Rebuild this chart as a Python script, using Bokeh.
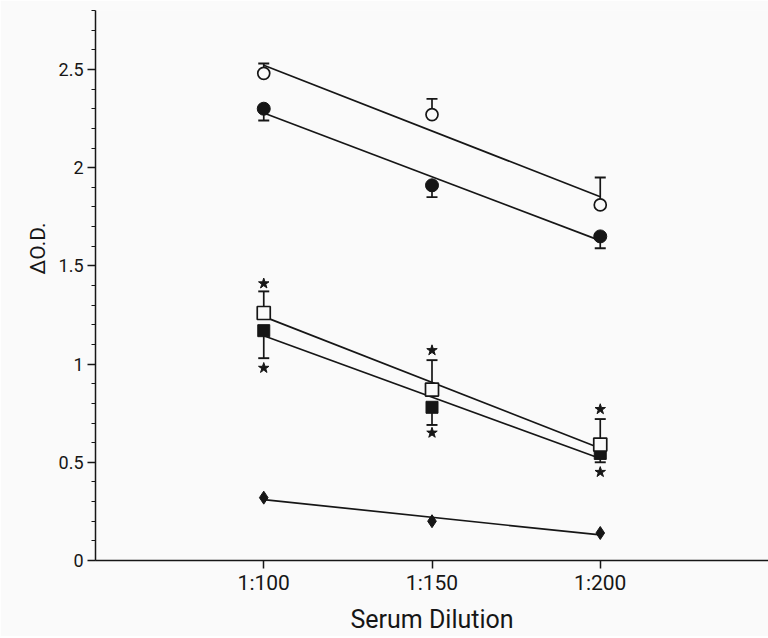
import numpy as np
from bokeh.plotting import figure
from bokeh.models import FixedTicker, Range1d, Title
from bokeh.embed import file_html
from bokeh.resources import INLINE

# ---- data ----
dilutions = ["1:100", "1:150", "1:200"]
x_pos = [1, 2, 3]

open_circle = [2.48, 2.27, 1.81]
open_circle_top = [2.53, 2.35, 1.95]

filled_circle = [2.30, 1.91, 1.65]
filled_circle_bottom = [2.24, 1.85, 1.59]

open_square = [1.26, 0.87, 0.59]
open_square_top = [1.37, 1.02, 0.72]
star_above = [1.41, 1.07, 0.77]

filled_square = [1.17, 0.78, 0.545]
filled_square_bottom = [1.03, 0.69, 0.50]
star_below = [0.98, 0.65, 0.45]

diamond = [0.32, 0.20, 0.14]

y_major = [0, 0.5, 1, 1.5, 2, 2.5]
y_minor = [round(i * 0.1, 1) for i in range(29)]

INK = "#161616"
BG = "#fafafa"
FONT = "Roboto"

p = figure(width=768, height=636, output_backend="svg", toolbar_location=None,
           x_range=Range1d(0, 4.0), y_range=Range1d(0, 2.8),
           min_border_left=95, min_border_top=10, min_border_bottom=76, min_border_right=0,
           background_fill_color=BG, border_fill_color=BG, outline_line_color=None)
p.grid.visible = False

# axes
p.xaxis.ticker = FixedTicker(ticks=x_pos, minor_ticks=[])
p.xaxis.major_label_overrides = {x: d for x, d in zip(x_pos, dilutions)}
p.yaxis.ticker = FixedTicker(ticks=y_major, minor_ticks=y_minor)
p.yaxis.major_label_overrides = {0: "0", 0.5: "0.5", 1: "1", 1.5: "1.5", 2: "2", 2.5: "2.5"}
for ax in (p.xaxis, p.yaxis):
    ax.axis_line_color = INK
    ax.axis_line_width = 1.5
    ax.major_tick_line_color = INK
    ax.major_tick_line_width = 1.5
    ax.minor_tick_line_color = INK
    ax.minor_tick_line_width = 1.2
    ax.major_tick_in = 0
    ax.major_tick_out = 8
    ax.minor_tick_in = 0
    ax.minor_tick_out = 4
    ax.major_label_text_font = FONT
    ax.major_label_text_color = INK
    ax.axis_label_text_font = FONT
    ax.axis_label_text_font_style = "normal"
    ax.axis_label_text_color = INK
p.xaxis.major_label_text_font_size = "21px"
p.xaxis.major_label_standoff = 2
p.yaxis.major_label_text_font_size = "18px"
p.yaxis.major_label_standoff = 4

p.xaxis.axis_label = "Serum Dilution"
p.xaxis.axis_label_text_font_size = "25px"
p.xaxis.axis_label_standoff = 7

# y-axis title placed as a left-side title (positioned toward the top like the original)
p.add_layout(Title(text="\u0394O.D.", align="right", offset=212, standoff=12,
                   text_font=FONT, text_font_size="21px", text_font_style="normal",
                   text_color=INK), "left")

def fit_line(ys):
    k, b = np.polyfit(x_pos, ys, 1)
    xs = [x_pos[0], x_pos[-1]]
    return xs, [k * x + b for x in xs]

# regression lines
for ys in (open_circle, filled_circle, open_square, filled_square, diamond):
    xs, ly = fit_line(ys)
    p.line(xs, ly, line_color=INK, line_width=1.7)

# error bars
def err(y0, y1):
    p.segment(x0=x_pos, y0=y0, x1=x_pos, y1=y1, line_color=INK, line_width=1.7)
    p.scatter(x=x_pos, y=y1, marker="dash", size=11, line_color=INK, line_width=1.9)

err(open_circle, open_circle_top)
err(filled_circle, filled_circle_bottom)
err(open_square, open_square_top)
err(filled_square, filled_square_bottom)

# markers
p.scatter(x=x_pos, y=filled_circle, marker="circle", size=13, fill_color=INK, line_color=INK)
p.scatter(x=x_pos, y=open_circle, marker="circle", size=12, fill_color=BG, line_color=INK, line_width=1.7)
p.scatter(x=x_pos, y=filled_square, marker="square", size=12, fill_color=INK, line_color=INK)
p.scatter(x=x_pos, y=open_square, marker="square", size=13, fill_color=BG, line_color=INK, line_width=1.7)
p.scatter(x=x_pos, y=diamond, marker="diamond", size=13, fill_color=INK, line_color=INK)
p.scatter(x=x_pos, y=star_above, marker="star", size=11, fill_color=INK, line_color=INK)
p.scatter(x=x_pos, y=star_below, marker="star", size=11, fill_color=INK, line_color=INK)

open("out.html", "w").write(file_html(p, INLINE))
